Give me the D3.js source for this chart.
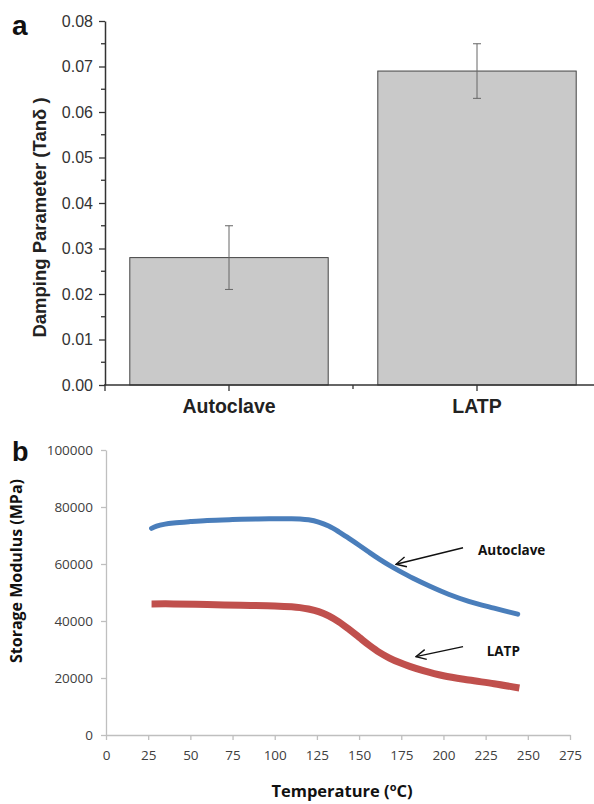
<!DOCTYPE html>
<html>
<head>
<meta charset="utf-8">
<script src="https://cdn.jsdelivr.net/npm/d3@7"></script>
<style>
  html, body { margin: 0; padding: 0; background: #fff; }
  svg { display: block; }
</style>
</head>
<body>
<svg id="chart" width="594" height="804"></svg>
<script>
// ---------- Panel a data ----------
const categoriesA = ["Autoclave", "LATP"];
const tanDelta = [0.028, 0.069];
const errLow = [0.021, 0.063];
const errHigh = [0.035, 0.075];
const yTicksA = [0, 0.01, 0.02, 0.03, 0.04, 0.05, 0.06, 0.07, 0.08];
const yMinorA = [0.005, 0.015, 0.025, 0.035, 0.045, 0.055, 0.065, 0.075];

// ---------- Panel b data ----------
const autoclaveT = [27, 30, 35, 40, 50, 60, 75, 90, 100, 110, 115, 120, 126, 132, 138, 144, 150, 156, 162, 168, 174, 182, 192, 203, 215, 230, 244];
const autoclaveE = [72500, 73300, 74000, 74400, 74900, 75300, 75600, 75800, 75900, 75900, 75800, 75500, 74700, 73300, 71300, 69000, 66600, 64100, 61700, 59500, 57500, 55000, 52200, 49400, 46900, 44500, 42400];
const latpT = [27, 40, 60, 80, 100, 110, 115, 120, 126, 132, 138, 144, 150, 156, 162, 168, 174, 180, 188, 200, 215, 230, 245];
const latpE = [46000, 46000, 45800, 45500, 45300, 45000, 44700, 44200, 43300, 41800, 39700, 37100, 34300, 31500, 29000, 27000, 25400, 24100, 22600, 20800, 19300, 18000, 16500];
const xTicksB = [0, 25, 50, 75, 100, 125, 150, 175, 200, 225, 250, 275];
const yTicksB = [0, 20000, 40000, 60000, 80000, 100000];
// annotation anchors (data units)
const annotNames = ["Autoclave", "LATP"];
const annotLabelT = [220.5, 225.6];
const annotLabelE = [63200, 27800];
const arrowFromT = [211.6, 211.6];
const arrowFromE = [65700, 31000];
const arrowToT = [171.9, 183.7];
const arrowToE = [59900, 27500];

const svg = d3.select("#chart");

// ================= Panel a =================
const gA = svg.append("g");
const yA = d3.scaleLinear().domain([0, 0.08]).range([385, 21]);
const xA = d3.scaleBand().domain(categoriesA).range([105, 601]).paddingInner(0.2).paddingOuter(0.1);

gA.selectAll("rect.bar").data(categoriesA).enter().append("rect")
  .attr("x", d => xA(d))
  .attr("y", (d, i) => yA(tanDelta[i]))
  .attr("width", xA.bandwidth())
  .attr("height", (d, i) => yA(0) - yA(tanDelta[i]))
  .attr("fill", "#c9c9c9")
  .attr("stroke", "#444")
  .attr("stroke-width", 1);

const eb = gA.selectAll("g.err").data(categoriesA).enter().append("g").attr("stroke", "#666").attr("stroke-width", 1);
eb.append("line")
  .attr("x1", d => xA(d) + xA.bandwidth() / 2).attr("x2", d => xA(d) + xA.bandwidth() / 2)
  .attr("y1", (d, i) => yA(errLow[i])).attr("y2", (d, i) => yA(errHigh[i]));
eb.append("line")
  .attr("x1", d => xA(d) + xA.bandwidth() / 2 - 4).attr("x2", d => xA(d) + xA.bandwidth() / 2 + 4)
  .attr("y1", (d, i) => yA(errLow[i])).attr("y2", (d, i) => yA(errLow[i]));
eb.append("line")
  .attr("x1", d => xA(d) + xA.bandwidth() / 2 - 4).attr("x2", d => xA(d) + xA.bandwidth() / 2 + 4)
  .attr("y1", (d, i) => yA(errHigh[i])).attr("y2", (d, i) => yA(errHigh[i]));

const yAxisA = gA.append("g").attr("transform", "translate(105,0)")
  .call(d3.axisLeft(yA).tickValues(yTicksA).tickFormat(d3.format(".2f")).tickSize(6).tickSizeOuter(0).tickPadding(6));
yAxisA.select(".domain").attr("stroke", "#333").attr("stroke-width", 1.5);
yAxisA.selectAll(".tick line").attr("stroke", "#333").attr("stroke-width", 1.3);
yAxisA.selectAll(".tick text").attr("font-family", "Liberation Sans, Arial, sans-serif").attr("font-size", 16).attr("fill", "#333");
gA.append("g").selectAll("line").data(yMinorA).enter().append("line")
  .attr("x1", 101).attr("x2", 105).attr("y1", d => yA(d)).attr("y2", d => yA(d))
  .attr("stroke", "#333").attr("stroke-width", 1.3);

gA.append("line").attr("x1", 104).attr("x2", 594).attr("y1", yA(0)).attr("y2", yA(0))
  .attr("stroke", "#333").attr("stroke-width", 1.5);
gA.append("g").selectAll("line").data(categoriesA).enter().append("line")
  .attr("x1", d => xA(d) + xA.bandwidth() / 2).attr("x2", d => xA(d) + xA.bandwidth() / 2)
  .attr("y1", yA(0)).attr("y2", yA(0) + 6).attr("stroke", "#333").attr("stroke-width", 1.3);
const bounds = [xA.range()[0], xA(categoriesA[1]) - xA.step() * xA.paddingInner() / 2];
gA.append("g").selectAll("line").data(bounds).enter().append("line")
  .attr("x1", d => d).attr("x2", d => d)
  .attr("y1", yA(0)).attr("y2", (d, i) => yA(0) + (i === 0 ? 6 : 4)).attr("stroke", "#333").attr("stroke-width", 1.3);
gA.append("g").selectAll("text").data(categoriesA).enter().append("text")
  .attr("x", d => xA(d) + xA.bandwidth() / 2).attr("y", 413)
  .attr("text-anchor", "middle")
  .attr("font-family", "Liberation Sans, Arial, sans-serif").attr("font-weight", "bold").attr("font-size", 19.5)
  .attr("fill", "#222").text(d => d);

gA.append("text")
  .attr("transform", "translate(46,217.5) rotate(-90)")
  .attr("text-anchor", "middle")
  .attr("font-family", "Liberation Sans, Arial, sans-serif").attr("font-weight", "bold").attr("font-size", 18.5)
  .attr("fill", "#222").text("Damping Parameter (Tanδ )");

svg.append("text").attr("x", 12).attr("y", 35)
  .attr("font-family", "Liberation Sans, Arial, sans-serif").attr("font-weight", "bold").attr("font-size", 28)
  .attr("fill", "#111").text("a");

// ================= Panel b =================
const gB = svg.append("g");
const xB = d3.scaleLinear().domain([0, 275]).range([106, 570]);
const yB = d3.scaleLinear().domain([0, 100000]).range([735, 450]);
const tickFont = "'Open Sans', 'Noto Sans', sans-serif";

const yAxisB = gB.append("g").attr("transform", "translate(106,0)")
  .call(d3.axisLeft(yB).tickValues(yTicksB).tickFormat(d3.format("d")).tickSize(5).tickSizeOuter(0).tickPadding(8));
const xAxisB = gB.append("g").attr("transform", "translate(0,735)")
  .call(d3.axisBottom(xB).tickValues(xTicksB).tickFormat(d3.format("d")).tickSize(5).tickSizeOuter(0).tickPadding(10));
[yAxisB, xAxisB].forEach(ax => {
  ax.select(".domain").attr("stroke", "#bfbfbf").attr("stroke-width", 1.3);
  ax.selectAll(".tick line").attr("stroke", "#bfbfbf").attr("stroke-width", 1.3);
  ax.selectAll(".tick text").attr("font-family", tickFont).attr("font-size", 13.5).attr("fill", "#404040");
});

const lineGen = d3.line().x(d => xB(d[0])).y(d => yB(d[1])).curve(d3.curveCatmullRom.alpha(0.5));
gB.append("path").datum(latpT.map((t, i) => [t, latpE[i]]))
  .attr("d", lineGen).attr("fill", "none").attr("stroke", "#c0504d").attr("stroke-width", 7);
gB.append("path").datum(autoclaveT.map((t, i) => [t, autoclaveE[i]]))
  .attr("d", lineGen).attr("fill", "none").attr("stroke", "#4a7ebb").attr("stroke-width", 5).attr("stroke-linecap", "round");

// arrows: line from label side to the curve, open head at the curve end
svg.append("defs").append("marker")
  .attr("id", "arr").attr("viewBox", "0 0 12 12").attr("refX", 11).attr("refY", 6)
  .attr("markerWidth", 12).attr("markerHeight", 12).attr("markerUnits", "userSpaceOnUse").attr("orient", "auto")
  .append("path").attr("d", "M1,1 L11,6 L1,11").attr("fill", "none").attr("stroke", "#111").attr("stroke-width", 1.4);
gB.selectAll("line.arrow").data(annotNames).enter().append("line")
  .attr("x1", (d, i) => xB(arrowFromT[i])).attr("y1", (d, i) => yB(arrowFromE[i]))
  .attr("x2", (d, i) => xB(arrowToT[i])).attr("y2", (d, i) => yB(arrowToE[i]))
  .attr("stroke", "#111").attr("stroke-width", 1.4).attr("marker-end", "url(#arr)");
gB.selectAll("text.annot").data(annotNames).enter().append("text")
  .attr("x", (d, i) => xB(annotLabelT[i])).attr("y", (d, i) => yB(annotLabelE[i]))
  .attr("font-family", tickFont).attr("font-weight", "bold").attr("font-size", 13.5)
  .attr("fill", "#111").text(d => d);

gB.append("text")
  .attr("transform", "translate(22,571) rotate(-90)")
  .attr("text-anchor", "middle")
  .attr("font-family", tickFont).attr("font-weight", "bold").attr("font-size", 16)
  .attr("fill", "#111").text("Storage Modulus (MPa)");
const xt = gB.append("text").attr("x", 342).attr("y", 797).attr("text-anchor", "middle")
  .attr("font-family", tickFont).attr("font-weight", "bold").attr("font-size", 16.5).attr("fill", "#111");
xt.append("tspan").text("Temperature (");
xt.append("tspan").attr("dy", -6).attr("font-size", 11).text("o");
xt.append("tspan").attr("dy", 6).text("C)");

svg.append("text").attr("x", 12).attr("y", 461)
  .attr("font-family", "Liberation Sans, Arial, sans-serif").attr("font-weight", "bold").attr("font-size", 27)
  .attr("fill", "#111").text("b");
</script>
</body>
</html>
